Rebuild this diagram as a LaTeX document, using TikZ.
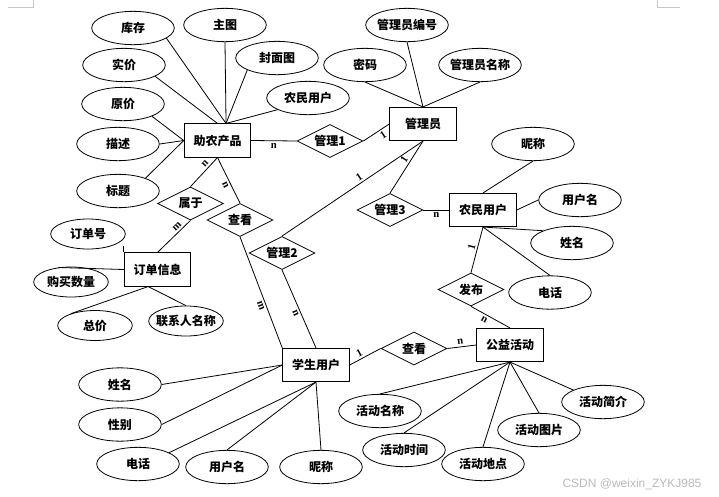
\documentclass[tikz,border=0pt]{standalone}
\usepackage{fontspec}
\setmainfont{Liberation Serif}
\newfontfamily\cjk{Noto Sans CJK SC}
\newfontfamily\wmfont{Liberation Sans}
\usetikzlibrary{shapes.geometric}

\tikzset{
  attr/.style={ellipse,draw,minimum width=62pt,minimum height=25pt,
    inner xsep=-10pt,inner ysep=0pt,font=\cjk\bfseries\fontsize{9pt}{10pt}\selectfont},
  sattr/.style={attr,minimum width=56pt,minimum height=22.5pt},
  ent/.style={rectangle,draw,minimum width=50pt,minimum height=25pt,
    inner sep=0pt,font=\cjk\bfseries\fontsize{9pt}{10pt}\selectfont},
  rel/.style={diamond,draw,aspect=2,minimum width=49.5pt,minimum height=24.75pt,
    inner sep=0pt,font=\cjk\bfseries\fontsize{9pt}{10pt}\selectfont},
  card/.style={sloped,inner sep=1.5pt,font=\bfseries\fontsize{8pt}{9pt}\selectfont}
}

\begin{document}
\begin{tikzpicture}[x=0.75pt,y=-0.75pt,line width=0.6pt]
  \useasboundingbox (0,0) rectangle (719,497);
  % page corner marks
  \draw[gray!45,line width=0.5pt] (8,7) -- (33,7) -- (33,0);
  \draw[gray!45,line width=0.5pt] (657,0) -- (657,7) -- (680,7);

  % entities
  \node[ent] (prod)   at (217.5,140.5) {助农产品};
  \node[ent] (admin)  at (423,124)     {管理员};
  \node[ent] (farmer) at (483,210)     {农民用户};
  \node[ent] (order)  at (157.5,269.5) {订单信息};
  \node[ent] (stu)    at (316,365)     {学生用户};
  \node[ent] (act)    at (510,345)     {公益活动};

  % relations
  \node[rel] (m1)     at (330,141)     {管理1};
  \node[rel] (m2)     at (282,253)     {管理2};
  \node[rel] (m3)     at (390,210)     {管理3};
  \node[rel] (belong) at (190.5,203.5) {属于};
  \node[rel] (v1)     at (240,220)     {查看};
  \node[rel] (v2)     at (414,348.5)   {查看};
  \node[rel] (pub)    at (471,289.5)   {发布};

  % attributes of the product
  \node[attr] (kucun)    at (133,28)  {库存};
  \node[attr] (zhutu)    at (225,25)  {主图};
  \node[attr] (fengmian) at (277,58)  {封面图};
  \node[attr] (shijia)   at (124,65)  {实价};
  \node[attr] (pfarmer)  at (308,98)  {农民用户};
  \node[attr] (yuanjia)  at (123,104) {原价};
  \node[attr] (miaoshu)  at (118,144) {描述};
  \node[attr] (biaoti)   at (118,191) {标题};
  \coordinate (ptop) at ([xshift=6.4pt]prod.north);
  \draw (kucun.-17) -- (ptop);
  \draw (zhutu.south) -- (ptop);
  \draw (fengmian.202) -- (ptop);
  \draw (pfarmer.201) -- (ptop);
  \draw (shijia.-20) -- (prod.north);
  \draw (yuanjia.-23) -- (prod.west);
  \draw (miaoshu.east) -- (prod.west);
  \draw (biaoti.25) -- (prod.west);

  % attributes of the admin
  \node[attr] (bianhao) at (407,25) {管理员编号};
  \node[attr] (mima)    at (365,65) {密码};
  \node[attr] (mname)   at (480,65) {管理员名称};
  \foreach \a in {bianhao,mima,mname}
    \draw (\a.south) -- (admin.north);

  % attributes of the farmer
  \node[attr] (fnick)  at (533,144)   {昵称};
  \node[attr] (funame) at (580,200)   {用户名};
  \node[attr] (fname)  at (572,243)   {姓名};
  \node[attr] (ftel)   at (550,292.5) {电话};
  \draw (fnick.south) -- (farmer.north);
  \draw (funame.west) -- (farmer.east);
  \draw (fname.157) -- (farmer.south);
  \draw (ftel.north) -- (farmer.south);

  % attributes of the order
  \node[sattr] (ono)     at (88,234)    {订单号};
  \node[sattr] (buy)     at (71,282)    {购买数量};
  \node[sattr] (tot)     at (95,325.5)  {总价};
  \node[sattr] (contact) at (186,321)   {联系人名称};
  \coordinate (obot) at ([xshift=-7pt]order.south);
  \draw (order.north west) -- (order.north west |- ono.-25);
  \draw (buy.131) -- (order.west);
  \draw (tot.154) -- (obot);
  \draw (contact.north) -- (obot);

  % attributes of the student
  \node[attr] (sname)  at (120,384.5) {姓名};
  \node[attr] (sex)    at (120,424.5) {性别};
  \node[attr] (stel)   at (138,464)   {电话};
  \node[attr] (suname) at (227,467)   {用户名};
  \node[attr] (snick)  at (321,467)   {昵称};
  \draw (sname.east) -- (stu.west);
  \draw (sex.east) -- (stu.west);
  \draw (stel.20) -- (stu.south);
  \draw (suname.north) -- (stu.south);
  \draw (snick.north) -- (stu.south);

  % attributes of the activity
  \node[attr] (jianjie) at (603,402) {活动简介};
  \node[attr] (hname)   at (380,411) {活动名称};
  \node[attr] (tupian)  at (539,430) {活动图片};
  \node[attr] (shijian) at (404,450) {活动时间};
  \node[attr] (didian)  at (483,464) {活动地点};
  \draw (jianjie.158) -- (act.south);
  \foreach \a in {hname,tupian,shijian,didian}
    \draw (\a.north) -- (act.south);

  % relation lines with cardinalities
  \draw (prod.east) -- node[card,below] {n} (m1.west);
  \draw (m1.east) -- node[card,below,pos=0.64] {1} (admin.west);
  \draw (admin.south) -- node[card,above,pos=0.42] {1} (m3.north);
  \draw (admin.south) -- node[card,above,pos=0.43] {1} (m2.north);
  \draw (m3.east) -- node[card,below] {n} (farmer.west);
  \draw (farmer.south) -- node[card,above,pos=0.47] {1} (pub.north);
  \draw (pub.south) -- node[card,below,pos=0.4] {n} (act.north);
  \draw (stu.east) -- node[card,above,pos=0.4] {1} (v2.west);
  \draw (v2.east) -- node[card,above,pos=0.47] {n} (act.west);
  \draw (prod.south) -- node[card,above,pos=0.33] {n} (belong.north);
  \draw (belong.south) -- node[card,above,pos=0.3] {m} (order.north);
  \draw (prod.south) -- node[card,below,pos=0.55] {n} (v1.north);
  \draw (v1.south) -- node[card,below,pos=0.6] {m} (stu.north west);
  \draw (m2.south) -- node[card,below,pos=0.53] {n} (stu.north);

  % watermark
  \node[font=\wmfont\fontsize{9pt}{10pt}\selectfont,text=gray!55] (wm) at (632,484) {CSDN @weixin\_ZYKJ985};
\end{tikzpicture}
\end{document}
